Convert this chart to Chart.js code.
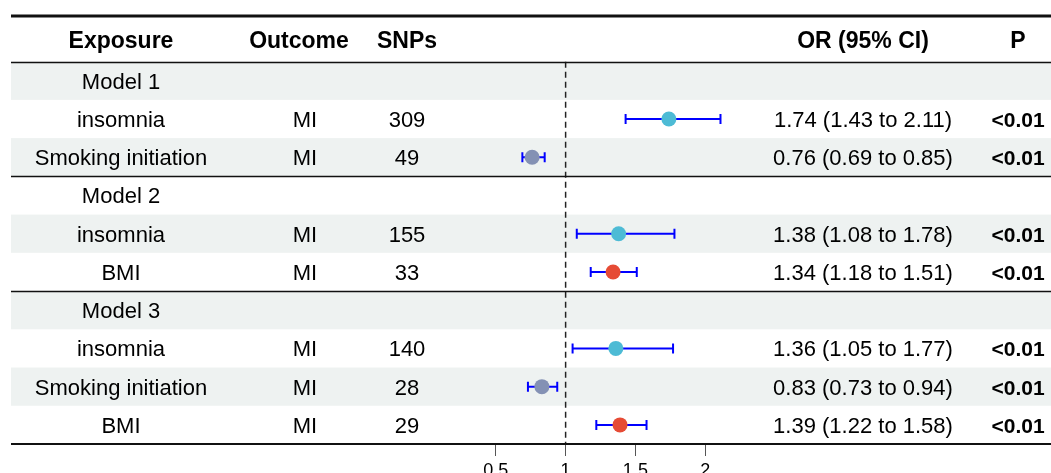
<!DOCTYPE html>
<html>
<head>
<meta charset="utf-8">
<script src="https://cdn.jsdelivr.net/npm/chart.js@4"></script>
<style>
  html, body { margin: 0; padding: 0; background: #fff; }
  #wrap { width: 1051px; height: 473px; position: relative; }
</style>
</head>
<body>
<div id="wrap"><canvas id="forest"></canvas></div>
<script>
// --- data ---
// rows 1..10, top to bottom (model headers have no estimate)
const exposures = ['Model 1', 'insomnia', 'Smoking initiation', 'Model 2', 'insomnia', 'BMI', 'Model 3', 'insomnia', 'Smoking initiation', 'BMI'];
const outcomes  = ['', 'MI', 'MI', '', 'MI', 'MI', '', 'MI', 'MI', 'MI'];
const snps      = ['', '309', '49', '', '155', '33', '', '140', '28', '29'];
const orValues  = [null, 1.74, 0.76, null, 1.38, 1.34, null, 1.36, 0.83, 1.39];
const ciLower   = [null, 1.43, 0.69, null, 1.08, 1.18, null, 1.05, 0.73, 1.22];
const ciUpper   = [null, 2.11, 0.85, null, 1.78, 1.51, null, 1.77, 0.94, 1.58];
const pValues   = ['', '<0.01', '<0.01', '', '<0.01', '<0.01', '', '<0.01', '<0.01', '<0.01'];
const xTicks    = [0.5, 1, 1.5, 2];
const headers   = ['Exposure', 'Outcome', 'SNPs', 'OR (95% CI)', 'P'];

// point colour by exposure
const exposureColors = { 'insomnia': '#4DBBD5', 'Smoking initiation': '#8491B4', 'BMI': '#E64B35' };

const rowIdx = exposures.map((e, i) => i + 1);
const estRows = rowIdx.filter(r => orValues[r - 1] !== null);

// label for the OR column
function orLabel(i) {
  if (orValues[i] === null) return '';
  return orValues[i].toFixed(2) + ' (' + ciLower[i].toFixed(2) + ' to ' + ciUpper[i].toFixed(2) + ')';
}

// one line dataset per confidence interval, caps drawn as rotated 'line' points
const ciSets = estRows.map(r => ({
  type: 'line',
  data: [{ x: ciLower[r - 1], y: r }, { x: ciUpper[r - 1], y: r }],
  borderColor: '#0000FF',
  borderWidth: 2,
  pointStyle: 'line',
  rotation: 90,
  pointRadius: 5,
  pointBorderColor: '#0000FF',
  pointBorderWidth: 2,
  order: 2
}));

const pointSet = {
  type: 'scatter',
  data: estRows.map(r => ({ x: orValues[r - 1], y: r })),
  backgroundColor: estRows.map(r => exposureColors[exposures[r - 1]]),
  pointRadius: 7.5,
  borderWidth: 0,
  order: 1
};

// reference line at OR = 1
const refLine = {
  type: 'line',
  data: [{ x: 1, y: 0.5 }, { x: 1, y: 10.5 }],
  borderColor: '#222',
  borderWidth: 1.5,
  borderDash: [6, 4],
  pointRadius: 0,
  order: 3
};

// table: stripes, rules and text columns
const tablePlugin = {
  id: 'table',
  beforeDatasetsDraw(chart) {
    const { ctx, scales: { y }, width } = chart;
    ctx.save();
    ctx.fillStyle = '#EEF2F1';
    rowIdx.forEach(r => {
      if (r % 2 === 1) {
        const top = y.getPixelForValue(r - 0.5);
        const bot = y.getPixelForValue(r + 0.5);
        ctx.fillRect(11, top, width - 11, bot - top);
      }
    });
    ctx.restore();
  },
  afterDatasetsDraw(chart) {
    const { ctx, scales: { y }, width } = chart;
    const cols = [121, 299, 407, 863, 1018];
    const bodyCols = [121, 305, 407, 863, 1018];
    ctx.save();
    ctx.fillStyle = '#000';
    ctx.textAlign = 'center';
    ctx.textBaseline = 'alphabetic';

    ctx.font = 'bold 23px "Liberation Sans", Arial, sans-serif';
    headers.forEach((h, i) => ctx.fillText(h, cols[i], 48));

    rowIdx.forEach((r, k) => {
      const base = y.getPixelForValue(r) + 8;
      ctx.font = '22px "Liberation Sans", Arial, sans-serif';
      ctx.fillText(exposures[k], bodyCols[0], base);
      ctx.fillText(outcomes[k], bodyCols[1], base);
      ctx.fillText(snps[k], bodyCols[2], base);
      ctx.fillText(orLabel(k), bodyCols[3], base);
      ctx.font = 'bold 21px "Liberation Sans", Arial, sans-serif';
      ctx.fillText(pValues[k], bodyCols[4], base);
    });

    // horizontal rules
    ctx.strokeStyle = '#111';
    const rule = (py, lw) => {
      ctx.lineWidth = lw;
      ctx.beginPath();
      ctx.moveTo(11, py);
      ctx.lineTo(width, py);
      ctx.stroke();
    };
    rule(16, 3);
    [0.5, 3.5, 6.5].forEach(v => rule(Math.round(y.getPixelForValue(v)) + 0.5, 1.5));
    rule(y.getPixelForValue(10.5), 2);
    ctx.restore();
  }
};

const ctx = document.getElementById('forest').getContext('2d');
new Chart(ctx, {
  data: { datasets: [refLine, ...ciSets, pointSet] },
  options: {
    responsive: true,
    maintainAspectRatio: false,
    animation: false,
    layout: { padding: 0 },
    plugins: { legend: { display: false }, tooltip: { enabled: false } },
    scales: {
      x: {
        type: 'linear',
        position: 'bottom',
        min: -3.0,
        max: 4.425,
        afterBuildTicks: axis => { axis.ticks = xTicks.map(v => ({ value: v })); },
        afterFit: axis => { axis.height = 29; },
        grid: { drawOnChartArea: false, drawTicks: true, tickLength: 12, color: '#555', lineWidth: 1 },
        border: { display: false },
        ticks: {
          color: '#000',
          padding: 4,
          maxRotation: 0,
          autoSkip: false,
          callback: v => String(v),
          font: { family: '"Liberation Sans", Arial, sans-serif', size: 18 }
        }
      },
      y: {
        type: 'linear',
        display: false,
        reverse: true,
        min: -0.916,
        max: 10.5
      }
    }
  },
  plugins: [tablePlugin]
});
</script>
</body>
</html>
